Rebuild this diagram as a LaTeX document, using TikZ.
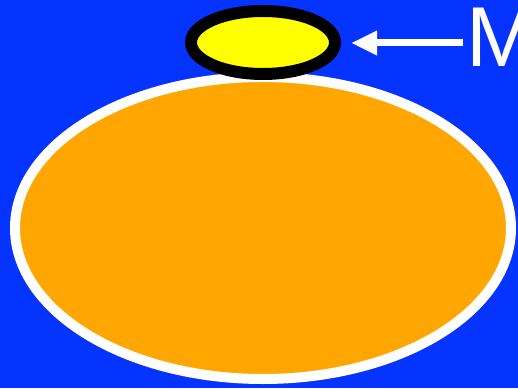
\documentclass[tikz,border=0pt]{standalone}
\usepackage{fontspec}
\setmainfont{Liberation Sans}
\usepackage{tikz}
\usetikzlibrary{shapes.geometric, arrows.meta, positioning}
\usepackage{xcolor}
\definecolor{skyblue}{HTML}{0533FF}
\definecolor{bodyorange}{HTML}{FFA600}
\definecolor{capyellow}{HTML}{FFFF00}

\tikzset{
    bodyshape/.style={ellipse, draw=white, fill=bodyorange, line width=10pt, inner sep=0pt, minimum width=496pt, minimum height=302pt},
    capshape/.style={ellipse, draw=black, fill=capyellow, line width=12pt, inner sep=0pt, minimum width=144pt, minimum height=63pt},
    pointer/.style={draw=white, line width=7pt, -{Triangle[length=26pt, width=23pt]}, shorten >=10pt}
}

\begin{document}
\begin{tikzpicture}[x=1pt, y=1pt]
    \fill[skyblue] (0,0) rectangle (518,388);
    \clip (0,0) rectangle (518,388);
    \node[bodyshape] (body) at (263,160) {};
    \node[capshape] (cap) at (263,345.5) {};
    \node[anchor=base west, inner sep=0pt, text=white, font=\fontsize{85}{90}\selectfont] (mark) at (466,321) {M};
    \coordinate (tail) at (463,345);
    \draw[pointer] (tail) -- (cap.east |- tail);
\end{tikzpicture}
\end{document}
